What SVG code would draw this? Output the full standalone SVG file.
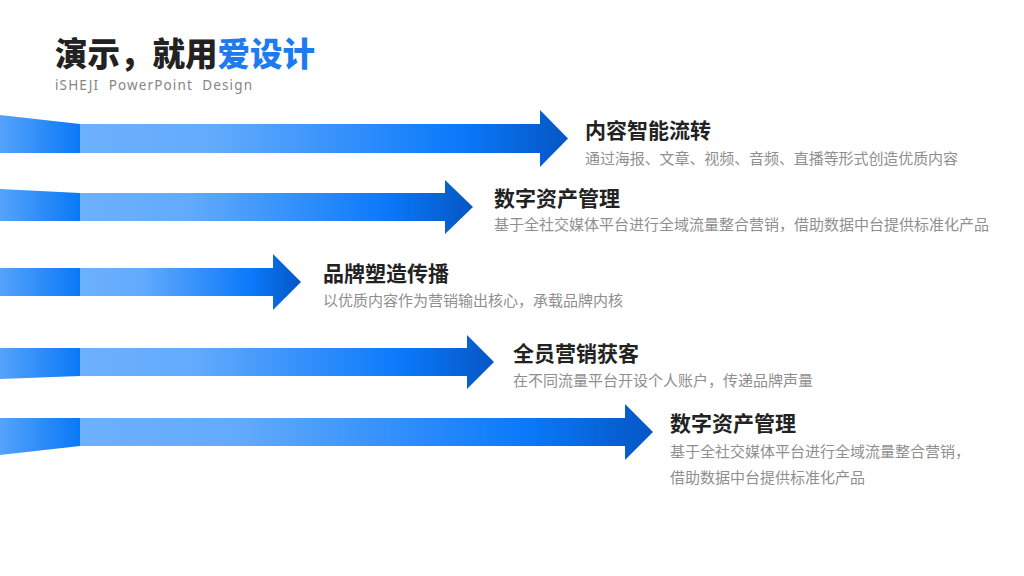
<svg xmlns="http://www.w3.org/2000/svg" width="1024" height="576" viewBox="0 0 1024 576">
  <defs>
    <linearGradient id="shaft" x1="0" y1="0" x2="1" y2="0">
      <stop offset="0" stop-color="#6db1fd"/>
      <stop offset="0.28" stop-color="#62aafc"/>
      <stop offset="0.78" stop-color="#0a79fa"/>
      <stop offset="1" stop-color="#0656c4"/>
    </linearGradient>
    <linearGradient id="tail" x1="0" y1="0" x2="1" y2="0">
      <stop offset="0" stop-color="#55a3fb"/>
      <stop offset="1" stop-color="#0a78f6"/>
    </linearGradient>
    <style>
      .tail { fill: url(#tail); }
      .shaft { fill: url(#shaft); }
      .t { font-family: "Noto Sans CJK SC", "Noto Sans", sans-serif; font-weight: 700; font-size: 21px; fill: #222222; }
      .d { font-family: "Noto Sans CJK SC", "Noto Sans", sans-serif; font-size: 15px; fill: #8f8f8f; }
    </style>
  </defs>

  <g id="header">
    <text x="55" y="66" font-family="Noto Sans CJK SC, sans-serif" font-weight="900" font-size="32.5" fill="#222222">演示，就用<tspan fill="#1e7bef">爱设计</tspan></text>
    <text x="55" y="90" font-family="Noto Sans, sans-serif" font-size="13.5" fill="#858585" textLength="197" lengthAdjust="spacing" xml:space="preserve">iSHEJI  PowerPoint  Design</text>
  </g>

  <g id="connectors">
    <path class="tail" d="M0,115 L80,124 V153 H0 Z"/>
    <path class="shaft" d="M80,124 H540 V110 L568,138.5 L540,167 V153 H80 Z"/>
    <path class="tail" d="M0,189 L80,193 V221 H0 Z"/>
    <path class="shaft" d="M80,193 H445 V180 L473,207 L445,234 V221 H80 Z"/>
    <path class="tail" d="M0,268 H80 V296 H0 Z"/>
    <path class="shaft" d="M80,268 H273 V254 L301,282 L273,310 V296 H80 Z"/>
    <path class="tail" d="M0,348 H80 V376 L0,379 Z"/>
    <path class="shaft" d="M80,348 H467 V335 L494,362 L467,389 V376 H80 Z"/>
    <path class="tail" d="M0,418 H80 V446 L0,455 Z"/>
    <path class="shaft" d="M80,418 H625 V404 L653,432 L625,460 V446 H80 Z"/>
  </g>

  <g id="item1">
    <text class="t" x="585" y="138">内容智能流转</text>
    <text class="d" x="585" y="164" textLength="373">通过海报、文章、视频、音频、直播等形式创造优质内容</text>
  </g>
  <g id="item2">
    <text class="t" x="494" y="206">数字资产管理</text>
    <text class="d" x="494" y="230">基于全社交媒体平台进行全域流量整合营销，借助数据中台提供标准化产品</text>
  </g>
  <g id="item3">
    <text class="t" x="323" y="281">品牌塑造传播</text>
    <text class="d" x="323" y="306">以优质内容作为营销输出核心，承载品牌内核</text>
  </g>
  <g id="item4">
    <text class="t" x="513" y="361">全员营销获客</text>
    <text class="d" x="513" y="386">在不同流量平台开设个人账户，传递品牌声量</text>
  </g>
  <g id="item5">
    <text class="t" x="670" y="431">数字资产管理</text>
    <text class="d" x="670" y="457">基于全社交媒体平台进行全域流量整合营销，</text>
    <text class="d" x="670" y="483">借助数据中台提供标准化产品</text>
  </g>
</svg>
